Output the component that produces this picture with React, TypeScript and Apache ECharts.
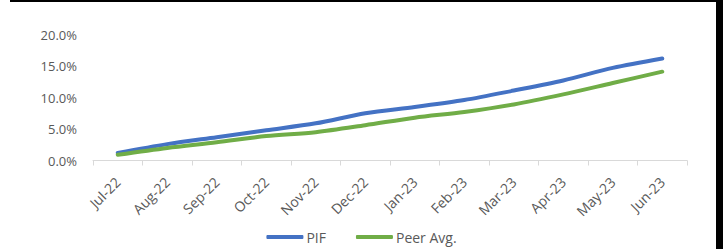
import React, { useEffect, useRef } from "react";
import * as echarts from "echarts";

const categories = ["Jul-22", "Aug-22", "Sep-22", "Oct-22", "Nov-22", "Dec-22", "Jan-23", "Feb-23", "Mar-23", "Apr-23", "May-23", "Jun-23"];
const pif = [1.2, 2.6, 3.7, 4.8, 5.9, 7.5, 8.5, 9.6, 11.1, 12.7, 14.7, 16.2];
const peer = [0.9, 2.0, 2.9, 3.9, 4.5, 5.6, 6.8, 7.7, 8.9, 10.5, 12.3, 14.1];
const yTicks = { min: 0, max: 20, interval: 5 };

export default function App() {
  const ref = useRef<HTMLDivElement>(null);
  useEffect(() => {
    document.body.style.margin = "0";
    const chart = echarts.init(ref.current!, null, { renderer: "svg" });
    const font = "'Open Sans', sans-serif";
    chart.setOption({
      animation: false,
      backgroundColor: "#ffffff",
      grid: { left: 93, right: 36, top: 34.5, bottom: 88.5, containLabel: false },
      xAxis: {
        type: "category",
        data: categories,
        boundaryGap: true,
        axisLine: { lineStyle: { color: "#D9D9D9", width: 1 } },
        axisTick: { show: true, length: 5, lineStyle: { color: "#D9D9D9" } },
        axisLabel: { rotate: 45, color: "#595959", fontSize: 14, fontFamily: font, margin: 19 },
        splitLine: { show: false },
      },
      yAxis: {
        type: "value",
        min: yTicks.min,
        max: yTicks.max,
        interval: yTicks.interval,
        axisLine: { show: false },
        axisTick: { show: false },
        splitLine: { show: false },
        axisLabel: {
          color: "#595959",
          fontSize: 13,
          fontFamily: font,
          margin: 16,
          formatter: (v: number) => v.toFixed(1) + "%",
        },
      },
      legend: {
        bottom: 0,
        left: "center",
        itemWidth: 37,
        itemHeight: 4,
        itemGap: 30,
        icon: "roundRect",
        textStyle: { color: "#595959", fontSize: 14, fontFamily: font, padding: [0, 0, 0, -2] },
        data: ["PIF", "Peer Avg."],
      },
      series: [
        {
          name: "PIF",
          type: "line",
          data: pif,
          smooth: 0.3,
          symbol: "none",
          lineStyle: { color: "#4472C4", width: 4, cap: "round" },
          itemStyle: { color: "#4472C4" },
        },
        {
          name: "Peer Avg.",
          type: "line",
          data: peer,
          smooth: 0.3,
          symbol: "none",
          lineStyle: { color: "#70AD47", width: 4, cap: "round" },
          itemStyle: { color: "#70AD47" },
        },
      ],
      graphic: [
        { type: "rect", shape: { x: 10, y: 0, width: 713, height: 2 }, style: { fill: "#000" }, z: 100 },
        { type: "rect", shape: { x: 716, y: 0, width: 7, height: 249 }, style: { fill: "#000" }, z: 100 },
      ],
    });
    return () => chart.dispose();
  }, []);
  return <div ref={ref} style={{ width: 723, height: 249 }} />;
}
